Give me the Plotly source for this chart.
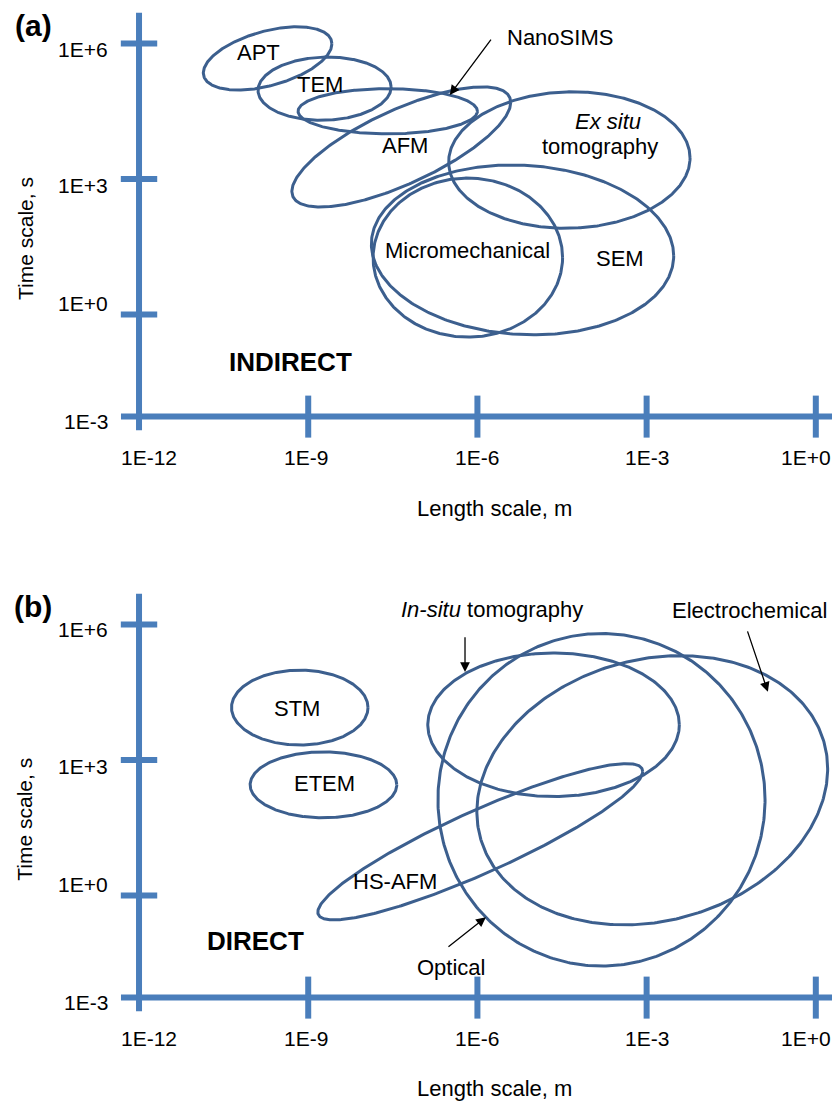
import numpy as np
import plotly.graph_objects as go

# ---- data: every value is log10 (length in m, time in s) ----
# (a) indirect techniques: ellipse centre, half-span along each axis, tilt (-1..1)
indirect_names = ["APT", "TEM", "NanoSIMS", "AFM", "Ex situ tomography", "Micromechanical", "SEM"]
indirect_log_len = [-9.72, -8.71, -7.59, -7.35, -4.37, -6.17, -5.20]
indirect_log_time = [5.67, 5.00, 4.50, 3.71, 3.42, 1.26, 1.43]
indirect_len_half = [1.14, 1.18, 1.59, 1.94, 2.14, 1.68, 2.68]
indirect_time_half = [0.70, 0.70, 0.50, 1.33, 1.51, 1.76, 1.88]
indirect_tilt = [0.46, 0.05, 0.0, 0.74, 0.03, 0.0, -0.07]

# (b) direct techniques
direct_names = ["STM", "ETEM", "HS-AFM", "In-situ tomography", "Optical", "Electrochemical"]
direct_log_len = [-9.15, -8.73, -5.95, -4.65, -3.80, -2.90]
direct_log_time = [4.16, 2.45, 1.19, 3.78, 2.12, 2.33]
direct_len_half = [1.21, 1.30, 2.88, 2.23, 2.90, 3.11]
direct_time_half = [0.83, 0.73, 1.73, 1.59, 3.68, 2.98]
direct_tilt = [0.0, 0.0, 0.90, 0.0, 0.0, 0.16]

# axes: decade ticks; the horizontal axis sits just above 1E-3 and carries that label
x_ticks = [-12, -9, -6, -3, 0]
x_tick_text = ["1E-12", "1E-9", "1E-6", "1E-3", "1E+0"]
y_ticks = [0, 3, 6]
axis_floor = -2.26
y_tick_vals = [axis_floor, 0, 3, 6]
y_tick_text = ["1E-3", "1E+0", "1E+3", "1E+6"]
x_axis_span = [-12.32, 0.40]
y_axis_span = [-2.56, 6.68]

# text labels (log length, log time)
indirect_labels = [
    ("APT", -9.89, 5.79), ("TEM", -8.79, 5.10), ("AFM", -7.28, 3.75),
    ("NanoSIMS", -4.54, 6.14), ("<i>Ex situ</i>", -3.68, 4.28), ("tomography", -3.83, 3.71),
    ("Micromechanical", -6.17, 1.41), ("SEM", -3.47, 1.25),
]
direct_labels = [
    ("STM", -9.20, 4.15), ("ETEM", -8.72, 2.49), ("HS-AFM", -7.46, 0.30),
    ("<i>In-situ</i> tomography", -5.74, 6.34), ("Electrochemical", -1.18, 6.32),
    ("Optical", -6.47, -1.60),
]
# arrows: (head x, head y, tail x, tail y)
indirect_arrows = [(-6.49, 4.86, -5.74, 6.12)]
direct_arrows = [(-6.22, 4.95, -6.22, 5.75), (-0.85, 4.51, -1.22, 5.88), (-5.85, -0.48, -6.54, -1.16)]

AXIS_BLUE = "#4A7EBB"
RING_BLUE = "#3C5F8E"
FONT = "Liberation Sans, Arial, sans-serif"

fig = go.Figure()


def add_panel(xa, ya, cx, cy, rx, ry, tilt):
    t = np.linspace(0, 2 * np.pi, 400)
    for x0, y0, a, b, r in zip(cx, cy, rx, ry, tilt):
        d = np.arccos(r)
        fig.add_trace(go.Scatter(
            x=x0 + a * np.cos(t), y=y0 + b * np.cos(t - d), mode="lines",
            line=dict(color=RING_BLUE, width=3), xaxis=xa, yaxis=ya,
            hoverinfo="skip", showlegend=False))
    # axis lines
    fig.add_trace(go.Scatter(x=x_axis_span, y=[axis_floor, axis_floor], mode="lines",
                             line=dict(color=AXIS_BLUE, width=6), xaxis=xa, yaxis=ya,
                             hoverinfo="skip", showlegend=False))
    fig.add_trace(go.Scatter(x=[x_ticks[0], x_ticks[0]], y=y_axis_span, mode="lines",
                             line=dict(color=AXIS_BLUE, width=6), xaxis=xa, yaxis=ya,
                             hoverinfo="skip", showlegend=False))
    # crossing tick marks
    fig.add_trace(go.Scatter(x=x_ticks[1:], y=[axis_floor] * (len(x_ticks) - 1), mode="markers",
                             marker=dict(symbol="line-ns", size=30,
                                         line=dict(color=AXIS_BLUE, width=6)),
                             xaxis=xa, yaxis=ya, hoverinfo="skip", showlegend=False,
                             cliponaxis=False))
    fig.add_trace(go.Scatter(x=[x_ticks[0]] * len(y_ticks), y=y_ticks, mode="markers",
                             marker=dict(symbol="line-ew", size=26,
                                         line=dict(color=AXIS_BLUE, width=6)),
                             xaxis=xa, yaxis=ya, hoverinfo="skip", showlegend=False,
                             cliponaxis=False))


add_panel("x", "y", indirect_log_len, indirect_log_time, indirect_len_half,
          indirect_time_half, indirect_tilt)
add_panel("x2", "y2", direct_log_len, direct_log_time, direct_len_half,
          direct_time_half, direct_tilt)

annotations = []
x_label_nudge = [10, -2, 0, 0, -10]
y_label_nudge = [-4.5, 11, -6, -5.5]
for xr, yr in (("x", "y"), ("x2", "y2")):
    for v, s, dx in zip(x_ticks, x_tick_text, x_label_nudge):
        annotations.append(dict(x=v, y=axis_floor, xref=xr, yref=yr, text=s, showarrow=False,
                                xanchor="center", yanchor="middle",
                                xshift=dx, yshift=-41, font=dict(size=21, family=FONT, color="black")))
    for v, s, dy in zip(y_tick_vals, y_tick_text, y_label_nudge):
        annotations.append(dict(x=x_ticks[0], y=v, xref=xr, yref=yr, text=s, showarrow=False,
                                xanchor="right", yanchor="middle", xshift=-29, yshift=dy,
                                font=dict(size=21, family=FONT, color="black")))

for labels, arrows, xr, yr in ((indirect_labels, indirect_arrows, "x", "y"),
                               (direct_labels, direct_arrows, "x2", "y2")):
    for s, lx, ly in labels:
        annotations.append(dict(x=lx, y=ly, xref=xr, yref=yr, text=s, showarrow=False,
                                xanchor="center", yanchor="middle",
                                font=dict(size=22, family=FONT, color="black")))
    for hx, hy, tx, ty in arrows:
        annotations.append(dict(x=hx, y=hy, ax=tx, ay=ty, xref=xr, yref=yr, axref=xr, ayref=yr,
                                text="", showarrow=True, arrowhead=2, arrowsize=1.5,
                                arrowwidth=1.3, arrowcolor="black"))

# panel tags, category words and axis titles
annotations += [
    dict(x=-9.32, y=-1.05, xref="x", yref="y", text="<b>INDIRECT</b>", showarrow=False,
         xanchor="center", yanchor="middle", font=dict(size=26, family=FONT, color="black")),
    dict(x=-9.94, y=-1.01, xref="x2", yref="y2", text="<b>DIRECT</b>", showarrow=False,
         xanchor="center", yanchor="middle", font=dict(size=26, family=FONT, color="black")),
]
for tag, py, title_y, xt_y in (("(a)", 0.977, 0.784, 0.539), ("(b)", 0.450, 0.257, 0.012)):
    annotations.append(dict(x=0.0397, y=py, xref="paper", yref="paper", text=f"<b>{tag}</b>",
                            xanchor="center", yanchor="middle", showarrow=False,
                            font=dict(size=30, family=FONT, color="black")))
    annotations.append(dict(x=0.030, y=title_y, xref="paper", yref="paper", text="Time scale, s",
                            xanchor="center", yanchor="middle", textangle=-90, showarrow=False,
                            font=dict(size=21, family=FONT, color="black")))
    annotations.append(dict(x=0.594, y=xt_y, xref="paper", yref="paper", text="Length scale, m",
                            xanchor="center", yanchor="middle", showarrow=False,
                            font=dict(size=22, family=FONT, color="black")))

x_range = [-14.465, 0.287]
y_range = [-3.442, 6.963]
hidden = dict(visible=False, showgrid=False, zeroline=False, fixedrange=True)

fig.update_layout(
    width=832, height=1102,
    margin=dict(l=0, r=0, t=0, b=0),
    paper_bgcolor="white", plot_bgcolor="white",
    xaxis=dict(range=x_range, domain=[0, 1], anchor="y", **hidden),
    yaxis=dict(range=y_range, domain=[0.5735, 1.0], anchor="x", **hidden),
    xaxis2=dict(range=x_range, domain=[0, 1], anchor="y2", **hidden),
    yaxis2=dict(range=y_range, domain=[0.04628, 0.47278], anchor="x2", **hidden),
    annotations=annotations,
    showlegend=False,
)

fig.write_html("out.html")
